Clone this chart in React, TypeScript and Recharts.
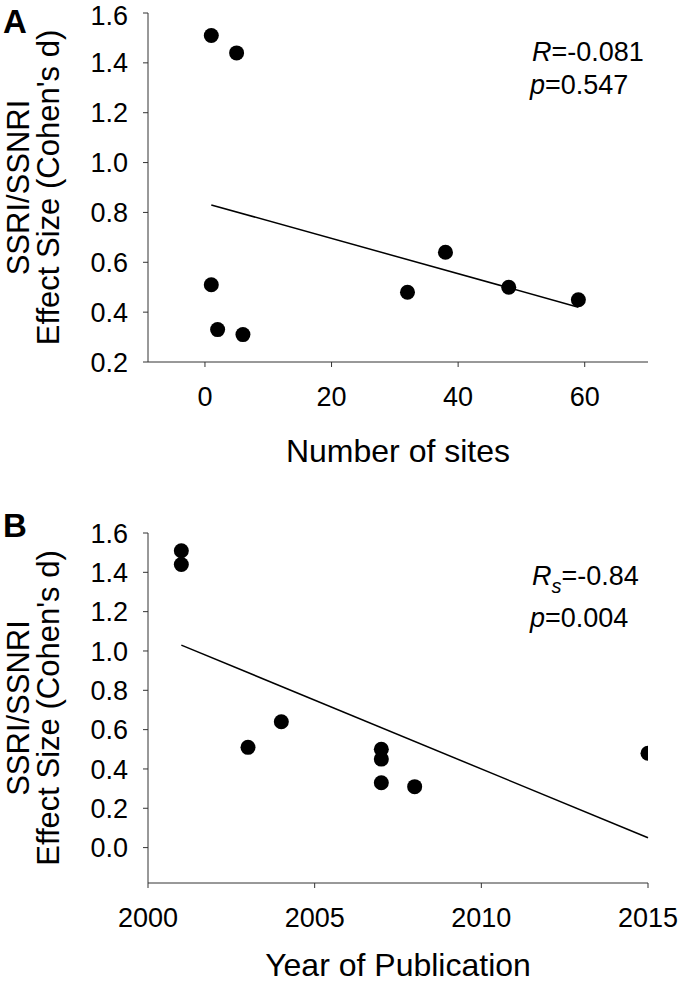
import {
    ScatterChart,
    Scatter,
    XAxis,
    YAxis,
    ReferenceLine,
} from 'recharts';

// panel A: effect size vs number of sites
const sites = [1, 5, 1, 2, 6, 32, 38, 48, 59];
const effectBySites = [1.51, 1.44, 0.51, 0.33, 0.31, 0.48, 0.64, 0.5, 0.45];
const sitesFitX = [1, 59];
const sitesFitY = [0.83, 0.42];
const sitesTicks = [0, 20, 40, 60];

// panel B: effect size vs year of publication
const years = [2001, 2001, 2003, 2004, 2007, 2007, 2007, 2008, 2015];
const effectByYear = [1.51, 1.44, 0.51, 0.64, 0.5, 0.45, 0.33, 0.31, 0.48];
const yearFitX = [2001, 2015];
const yearFitY = [1.03, 0.05];
const yearTicks = [2000, 2005, 2010, 2015];

const effectTicksA = [0.2, 0.4, 0.6, 0.8, 1.0, 1.2, 1.4, 1.6];
const effectTicksB = [0.0, 0.2, 0.4, 0.6, 0.8, 1.0, 1.2, 1.4, 1.6];

const FONT = '"Liberation Sans", Arial, Helvetica, sans-serif';
const AXIS = '#333';

const dataA = sites.map((x, i) => ({ x, y: effectBySites[i] }));
const dataB = years.map((x, i) => ({ x, y: effectByYear[i] }));

function Dot(props: any) {
    return <circle cx={props.cx} cy={props.cy} r={7.5} fill="#000" />;
}

function EffectLabel(props: any) {
    const vb = props.viewBox || { x: 0, y: 13, width: 148, height: 349 };
    const cy = vb.y + vb.height / 2;
    return (
        <g fontFamily={FONT} fontSize={31} fill="#000">
            <text x={29} y={cy} transform={`rotate(-90 29 ${cy})`} textAnchor="middle">
                SSRI/SSNRI
            </text>
            <text x={59} y={cy} transform={`rotate(-90 59 ${cy})`} textAnchor="middle">
                Effect Size (Cohen's d)
            </text>
        </g>
    );
}

const tickStyle = { fontSize: 27, fill: '#000', fontFamily: FONT };

export default function App() {
    return (
        <div style={{ position: 'absolute', left: 0, top: 0, width: 680, height: 984, background: '#fff' }}>
            <div style={{ position: 'absolute', left: 0, top: 0 }}>
                <ScatterChart width={680} height={480} margin={{ top: 13, right: 32, left: 0, bottom: 0 }}>
                    <XAxis
                        type="number"
                        dataKey="x"
                        domain={[-9, 70]}
                        ticks={sitesTicks}
                        allowDataOverflow
                        height={118}
                        tickSize={5}
                        tickMargin={20}
                        tick={tickStyle}
                        stroke={AXIS}
                        label={{
                            value: 'Number of sites',
                            position: 'insideBottom',
                            offset: 18,
                            style: { fontSize: 32, fill: '#000', fontFamily: FONT },
                        }}
                    />
                    <YAxis
                        type="number"
                        dataKey="y"
                        domain={[0.2, 1.6]}
                        ticks={effectTicksA}
                        allowDataOverflow
                        width={148}
                        tickSize={5}
                        tickMargin={15}
                        tick={tickStyle}
                        tickFormatter={(v: number) => v.toFixed(1)}
                        stroke={AXIS}
                        label={(p: any) => <EffectLabel {...p} />}
                    />
                    <ReferenceLine
                        segment={[
                            { x: sitesFitX[0], y: sitesFitY[0] },
                            { x: sitesFitX[1], y: sitesFitY[1] },
                        ]}
                        stroke="#000"
                        strokeWidth={1.5}
                    />
                    <Scatter data={dataA} shape={Dot} isAnimationActive={false} />
                </ScatterChart>
            </div>
            <div style={{ position: 'absolute', left: 0, top: 492 }}>
                <ScatterChart width={680} height={492} margin={{ top: 41, right: 32, left: 0, bottom: 0 }}>
                    <XAxis
                        type="number"
                        dataKey="x"
                        domain={[2000, 2015]}
                        ticks={yearTicks}
                        allowDataOverflow
                        height={101}
                        tickSize={5}
                        tickMargin={20}
                        tick={tickStyle}
                        stroke={AXIS}
                        label={{
                            value: 'Year of Publication',
                            position: 'insideBottom',
                            offset: 8,
                            style: { fontSize: 32, fill: '#000', fontFamily: FONT },
                        }}
                    />
                    <YAxis
                        type="number"
                        dataKey="y"
                        domain={[-0.18, 1.6]}
                        ticks={effectTicksB}
                        allowDataOverflow
                        width={148}
                        tickSize={5}
                        tickMargin={15}
                        tick={tickStyle}
                        tickFormatter={(v: number) => v.toFixed(1)}
                        stroke={AXIS}
                        label={(p: any) => <EffectLabel {...p} />}
                    />
                    <ReferenceLine
                        segment={[
                            { x: yearFitX[0], y: yearFitY[0] },
                            { x: yearFitX[1], y: yearFitY[1] },
                        ]}
                        stroke="#000"
                        strokeWidth={1.5}
                    />
                    <Scatter data={dataB} shape={Dot} isAnimationActive={false} />
                </ScatterChart>
            </div>
            <svg
                width={680}
                height={984}
                style={{ position: 'absolute', left: 0, top: 0, pointerEvents: 'none' }}
                fontFamily={FONT}
            >
                <text x={3} y={33} fontSize={33} fontWeight="bold">A</text>
                <text x={3} y={537} fontSize={33} fontWeight="bold">B</text>
                <text x={532} y={61} fontSize={27}>
                    <tspan fontStyle="italic">R</tspan>=-0.081
                </text>
                <text x={530} y={94} fontSize={27}>
                    <tspan fontStyle="italic">p</tspan>=0.547
                </text>
                <text x={532} y={585} fontSize={27}>
                    <tspan fontStyle="italic">R</tspan>
                    <tspan fontStyle="italic" fontSize={20} dy={8}>s</tspan>
                    <tspan dy={-8}>=-0.84</tspan>
                </text>
                <text x={530} y={627} fontSize={27}>
                    <tspan fontStyle="italic">p</tspan>=0.004
                </text>
            </svg>
        </div>
    );
}
